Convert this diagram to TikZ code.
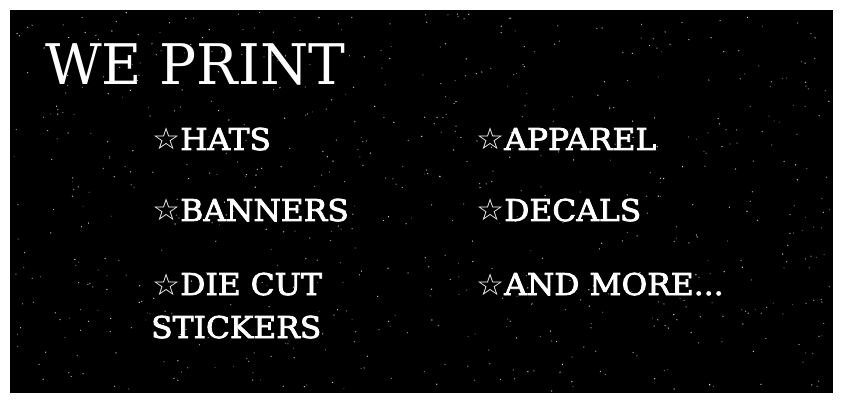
\documentclass[tikz,border=0pt]{standalone}
\usepackage{fontspec}
\setmainfont{DejaVu Serif}
\newfontfamily\starfont{DejaVu Sans}
\newfontfamily\titlefont{DejaVu Serif}
\newfontfamily\itemfont[FakeBold=2.5]{DejaVu Serif}
\begin{document}
\begin{tikzpicture}[x=1pt,y=-1pt,
  item/.style={anchor=base west,inner sep=0pt,text=white,xscale=1.045,font=\itemfont\fontsize{30}{30}\selectfont},
  title/.style={anchor=base west,inner sep=0pt,text=white,font=\titlefont\fontsize{56}{56}\selectfont}]
\useasboundingbox (0,0) rectangle (843,403);
\fill[white] (0,0) rectangle (843,403);
\fill[black] (10,10) rectangle (833,393);
\pgfmathsetseed{42}
\foreach \i in {1,...,700}{
  \pgfmathsetmacro{\px}{12+rnd*819}
  \pgfmathsetmacro{\py}{12+rnd*379}
  \pgfmathsetmacro{\op}{0.25+0.6*rnd}
  \fill[white,opacity=\op] (\px,\py) circle (0.7);
}
\node[title,xscale=0.985] (title) at (45,85) {WE PRINT};
\node[item] (hats) at (152,150) {{\starfont ☆}HATS};
\node[item] (banners) at (152,221) {{\starfont ☆}BANNERS};
\node[item] (diecut) at (152,295) {{\starfont ☆}DIE CUT};
\node[item] (stickers) at (151,338) {STICKERS};
\node[item] (apparel) at (476,150) {{\starfont ☆}APPAREL};
\node[item] (decals) at (476,221) {{\starfont ☆}DECALS};
\node[item] (more) at (476,295) {{\starfont ☆}AND MORE...};
\end{tikzpicture}
\end{document}
